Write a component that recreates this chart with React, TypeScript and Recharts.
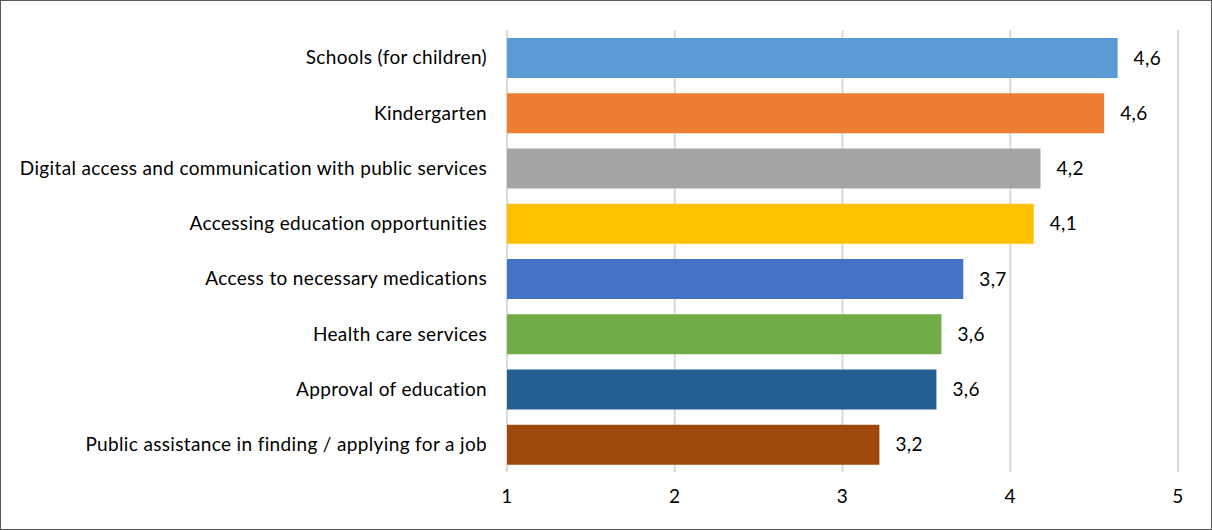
import React from "react";
import { BarChart, Bar, XAxis, YAxis, CartesianGrid, Cell, LabelList } from "recharts";

const categories = [
  "Schools (for children)",
  "Kindergarten",
  "Digital access and communication with public services",
  "Accessing education opportunities",
  "Access to necessary medications",
  "Health care services",
  "Approval of education",
  "Public assistance in finding / applying for a job",
];
const values = [4.64, 4.56, 4.18, 4.14, 3.72, 3.59, 3.56, 3.22];
const colors = ["#5B9BD5", "#ED7D31", "#A5A5A5", "#FFC000", "#4472C4", "#70AD47", "#255E91", "#9E480E"];
const xTicks = [1, 2, 3, 4, 5];

const data = categories.map((name, i) => ({ name, value: values[i] }));

const FONT = "Lato, 'Open Sans', sans-serif";
const textStyle = { fill: "#000", fontSize: 19, fontFamily: FONT, letterSpacing: 0.35 };

export default function App() {
  return (
    <div
      style={{
        position: "absolute",
        left: 0,
        top: 0,
        width: 1212,
        height: 530,
        border: "1px solid #595959",
        boxSizing: "border-box",
        background: "#fff",
        fontFamily: FONT,
      }}
    >
      <div style={{ position: "absolute", left: -1, top: -1 }}>
        <BarChart
          width={1212}
          height={530}
          data={data}
          layout="vertical"
          margin={{ top: 30, right: 34, bottom: 28, left: 0 }}
          barSize={40}
        >
          <CartesianGrid horizontal={false} stroke="#d9d9d9" strokeWidth={2} />
          <XAxis
            type="number"
            domain={[1, 5]}
            ticks={xTicks}
            axisLine={false}
            tickLine={false}
            tickSize={0}
            tickMargin={18}
            height={30}
            tick={textStyle}
          />
          <YAxis
            type="category"
            dataKey="name"
            width={507}
            axisLine={false}
            tickLine={false}
            tickSize={0}
            tickMargin={20}
            interval={0}
            tick={textStyle}
          />
          <Bar dataKey="value" isAnimationActive={false}>
            {data.map((d, i) => (
              <Cell key={d.name} fill={colors[i]} />
            ))}
            <LabelList
              dataKey="value"
              position="right"
              offset={16}
              formatter={(v: number) => v.toFixed(1).replace(".", ",")}
              style={textStyle}
            />
          </Bar>
        </BarChart>
      </div>
    </div>
  );
}
